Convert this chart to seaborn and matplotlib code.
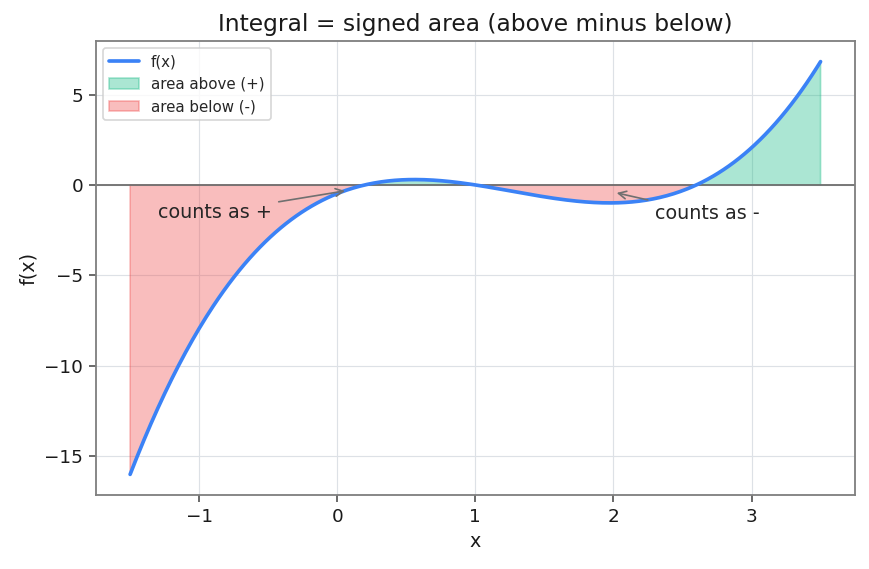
import numpy as np
import pandas as pd
import matplotlib
matplotlib.use("Agg")
import matplotlib.pyplot as plt
import seaborn as sns

# cubic f(x) = c3 x^3 + c2 x^2 + c1 x + c0 (roots ~0.2, 1, 2.6)
coeffs = [0.92, -3.496, 3.054, -0.478]
x_range = [-1.5, 3.5]

# annotation targets / text spots (data coords)
ann_text = ["counts as +", "counts as -"]
ann_xy = [(0.08, -0.30), (2.0, -0.40)]
ann_xytext = [(-1.30, -1.82), (2.30, -1.88)]

x = np.linspace(x_range[0], x_range[1], 400)
y = np.polyval(coeffs, x)
df = pd.DataFrame({"x": x, "f(x)": y})

sns.set_theme(style="ticks")
plt.rcParams["font.family"] = ["DejaVu Sans"]

fig, ax = plt.subplots(figsize=(869 / 120, 569 / 120), dpi=120)
fig.subplots_adjust(left=0.110, right=0.984, top=0.928, bottom=0.130)

ax.fill_between(df["x"], df["f(x)"], 0, where=df["f(x)"] >= 0, interpolate=True,
                color="#10b981", alpha=0.35, label="area above (+)")
ax.fill_between(df["x"], df["f(x)"], 0, where=df["f(x)"] <= 0, interpolate=True,
                color="#ef4444", alpha=0.35, label="area below (-)")
sns.lineplot(data=df, x="x", y="f(x)", ax=ax, color="#3b82f6", linewidth=2.2,
             label="f(x)", zorder=3)
ax.axhline(0, color="#707070", linewidth=1.1, zorder=2)

for t, xy, xyt in zip(ann_text, ann_xy, ann_xytext):
    ax.annotate(t, xy=xy, xytext=xyt, fontsize=11.5,
                arrowprops=dict(arrowstyle="->", color="#707070", lw=1.0))

ax.grid(True, color="#dde1e6", linewidth=0.7)
ax.set_axisbelow(True)
for s in ax.spines.values():
    s.set_color("#808080")
    s.set_linewidth(1.1)
ax.tick_params(colors="#1a1a1a", labelsize=11, length=4, width=1.0, color="#505050")

ax.set_title("Integral = signed area (above minus below)", fontsize=14, color="#1a1a1a")
ax.set_xlabel("x", fontsize=11.5, color="#1a1a1a")
ax.set_ylabel("f(x)", fontsize=11.5, color="#1a1a1a")

h, l = ax.get_legend_handles_labels()
order = [l.index("f(x)"), l.index("area above (+)"), l.index("area below (-)")]
ax.legend([h[i] for i in order], [l[i] for i in order], loc="upper left", fontsize=9)

fig.savefig("out.png", dpi=120)
